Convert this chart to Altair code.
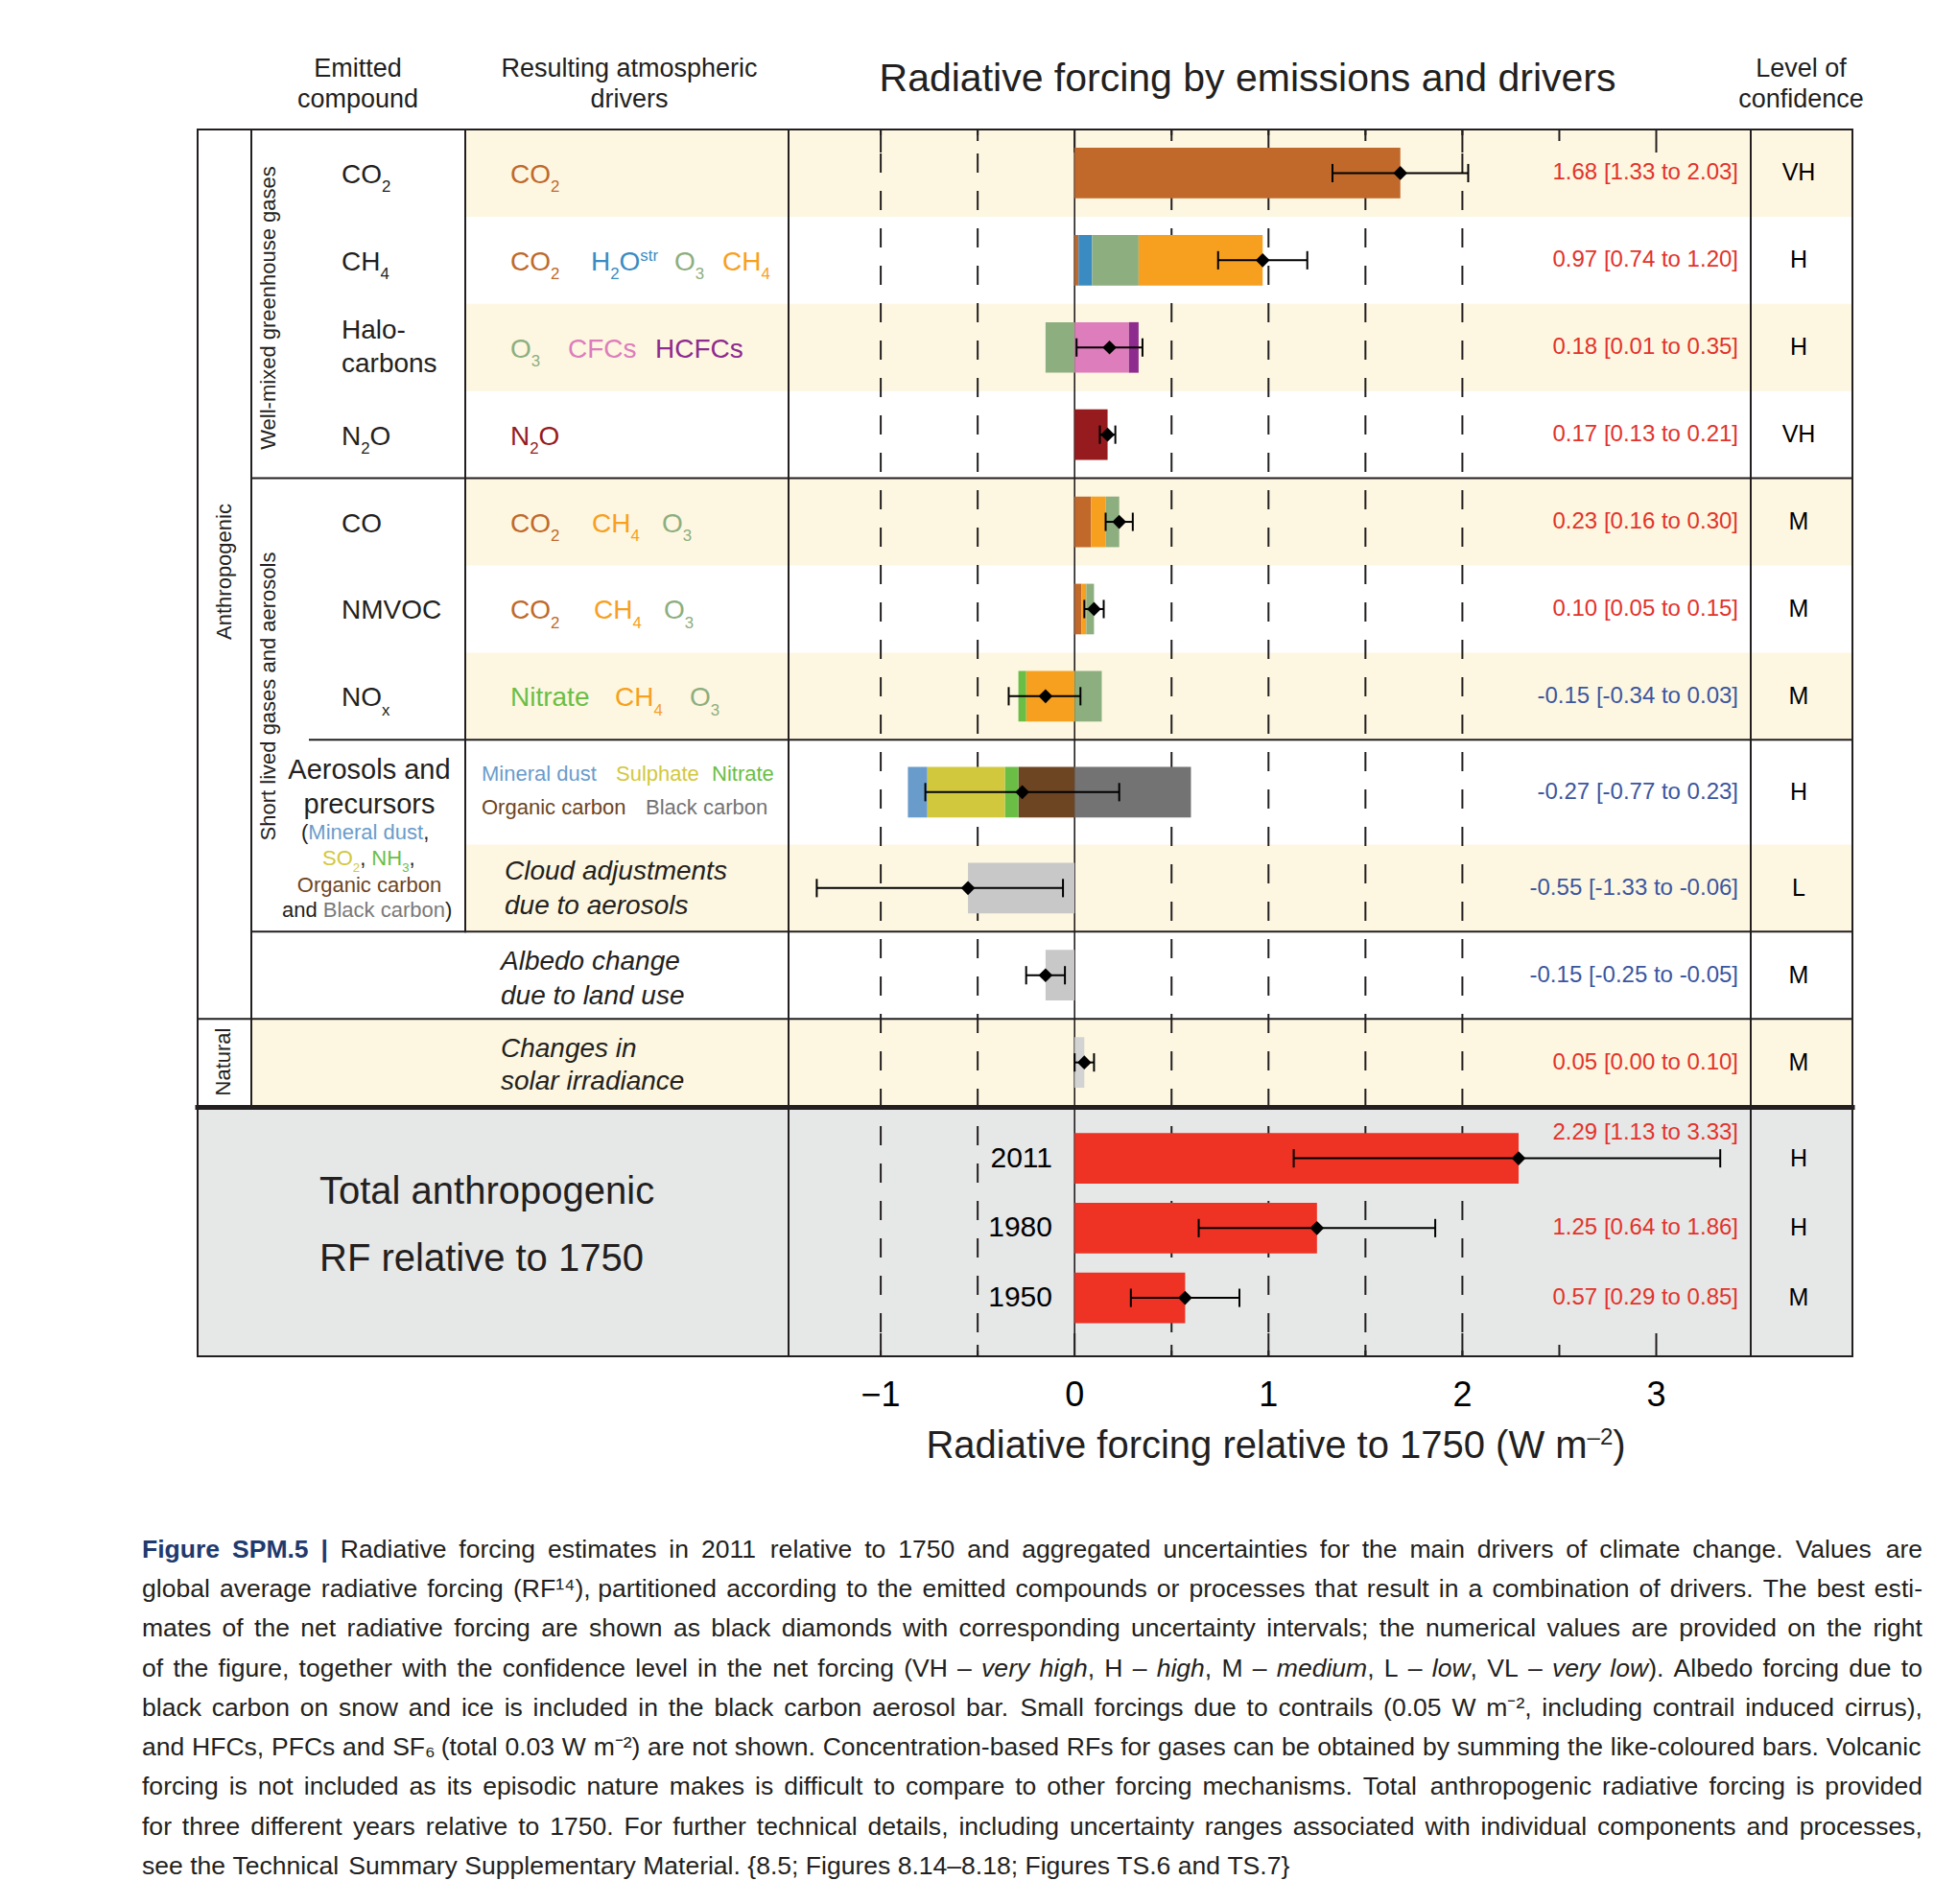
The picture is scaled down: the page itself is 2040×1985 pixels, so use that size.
import re
import altair as alt
import pandas as pd

# ---------------- data ----------------
ROW_KEYS = ["CO2", "CH4", "Halocarbons", "N2O", "CO", "NMVOC", "NOx",
            "Aerosols", "Cloud", "Albedo", "Solar", "2011", "1980", "1950"]
BEST = [1.68, 0.97, 0.18, 0.17, 0.23, 0.10, -0.15, -0.27, -0.55, -0.15, 0.05, 2.29, 1.25, 0.57]
LOW = [1.33, 0.74, 0.01, 0.13, 0.16, 0.05, -0.34, -0.77, -1.33, -0.25, 0.00, 1.13, 0.64, 0.29]
HIGH = [2.03, 1.20, 0.35, 0.21, 0.30, 0.15, 0.03, 0.23, -0.06, -0.05, 0.10, 3.33, 1.86, 0.85]
CONF = ["VH", "H", "H", "VH", "M", "M", "M", "H", "L", "M", "M", "H", "H", "M"]
YEARS = ["2011", "1980", "1950"]

# bar components, in stacking order outward from zero
COMP_ROW = ["CO2",
            "CH4", "CH4", "CH4", "CH4",
            "Halocarbons", "Halocarbons", "Halocarbons",
            "N2O",
            "CO", "CO", "CO",
            "NMVOC", "NMVOC", "NMVOC",
            "NOx", "NOx", "NOx",
            "Aerosols", "Aerosols", "Aerosols", "Aerosols", "Aerosols",
            "Cloud", "Albedo", "Solar", "2011", "1980", "1950"]
COMP_DRIVER = ["CO2",
               "CO2", "H2Ostr", "O3", "CH4",
               "O3", "CFCs", "HCFCs",
               "N2O",
               "CO2", "CH4", "O3",
               "CO2", "CH4", "O3",
               "CH4", "Nitrate", "O3",
               "Organic carbon", "Nitrate", "Sulphate", "Mineral dust", "Black carbon",
               "Cloud adjustments", "Land use albedo", "Solar irradiance", "Total", "Total", "Total"]
COMP_VALUE = [1.68,
              0.02, 0.07, 0.24, 0.64,
              -0.15, 0.28, 0.05,
              0.17,
              0.085, 0.075, 0.07,
              0.035, 0.025, 0.04,
              -0.25, -0.04, 0.14,
              -0.29, -0.07, -0.40, -0.10, 0.60,
              -0.55, -0.15, 0.05, 2.29, 1.25, 0.57]

DRIVERS = ["CO2", "H2Ostr", "O3", "CH4", "CFCs", "HCFCs", "N2O", "Nitrate", "Mineral dust",
           "Sulphate", "Organic carbon", "Black carbon", "Cloud adjustments", "Land use albedo",
           "Solar irradiance", "Total"]
DRIVER_COLORS = ["#C0692B", "#3A8BC2", "#8DAE7E", "#F7A01F", "#DE7DBB", "#8E2B8F", "#961B1E",
                 "#6BBE45", "#6A9CCB", "#D2C83E", "#6D4522", "#737373", "#C8C8C8", "#C8C8C8",
                 "#D3D3D3", "#EE3224"]
PAL = dict(zip(DRIVERS, DRIVER_COLORS))

TICK_MAJOR = [-1, 0, 1, 2, 3]
TICK_MINOR = [-0.5, 0.5, 1.5, 2.5]
DASH_AT = [-1, -0.5, 0.5, 1, 1.5, 2]

# ---------------- layout ----------------
W, H, OFF = 2024, 1969, 8
X0PX, XUNIT = 1120.2, 202.1     # pixel of x=0 and pixels per W m-2
Y0PX, YUNIT = 135.0, 90.9       # pixel of table top and pixels per row unit
X_L = (OFF - X0PX) / XUNIT
X_R = (OFF + W - X0PX) / XUNIT
Y_T = (OFF - Y0PX) / YUNIT
Y_B = (OFF + H - Y0PX) / YUNIT
XS = alt.Scale(domain=[X_L, X_R], nice=False, zero=False)
YS = alt.Scale(domain=[Y_T, Y_B], nice=False, zero=False, reverse=True)

ROW_UNITS = [1, 1, 1, 1, 1, 1, 1, 1.2, 1, 1, 1]
bounds = [0.0]
for h in ROW_UNITS:
    bounds.append(bounds[-1] + h)
RC = [(bounds[i] + bounds[i + 1]) / 2 for i in range(len(ROW_UNITS))]
RC += [bounds[-1] + 0.6 + 0.8 * i for i in range(3)]
HB, HC = 0.29, 0.105


def rpx(r):
    return Y0PX + YUNIT * r


FONT = "Liberation Sans"
INK = "#231F20"
RED, BLUE = "#E2332B", "#3B56A0"
CREAM, GREY = "#FDF7E1", "#E6E7E7"

# Arial / Liberation Sans advance widths (per 1000 em)
AW = dict(zip(" !\"#$%&'()*+,-./", [278, 278, 355, 556, 556, 889, 667, 191, 333, 333, 389, 584, 278, 333, 278, 278]))
AW.update({c: 556 for c in "0123456789"})
AW.update(dict(zip(":;<=>?@", [278, 278, 584, 584, 584, 556, 1015])))
AW.update(dict(zip("ABCDEFGHIJKLMNOPQRSTUVWXYZ",
                   [667, 667, 722, 722, 667, 611, 778, 722, 278, 500, 667, 556, 833, 722, 778, 667,
                    778, 722, 667, 611, 722, 667, 944, 667, 667, 611])))
AW.update(dict(zip("abcdefghijklmnopqrstuvwxyz",
                   [556, 556, 500, 556, 556, 278, 556, 556, 222, 222, 500, 222, 833, 556, 556, 556,
                    556, 333, 500, 278, 556, 500, 722, 500, 500, 500])))
AW.update({"[": 278, "]": 278, "{": 334, "|": 260, "}": 334, "–": 556, "¹": 333, "²": 333,
           "⁴": 333, "⁻": 333, "₆": 333})
ABW = {"F": 611, "i": 278, "g": 611, "u": 611, "r": 389, "e": 556, "S": 667, "P": 667,
       "M": 833, ".": 278, "5": 556, "|": 280, " ": 278}


def tw(s, fs, bold=False):
    return sum((ABW.get(c, AW.get(c, 556)) if bold else AW.get(c, 556)) for c in s) * fs / 1000.0


texts = []


def add(t, x, y, fs, col=INK, align="left", baseline="alphabetic", style="normal",
        weight="normal", angle=0):
    texts.append(dict(t=t, x=x - OFF, y=y - OFF, fs=fs, col=col, align=align,
                      baseline=baseline, style=style, weight=weight, angle=angle))


TOK = re.compile(r"_\{([^}]*)\}|\^\{([^}]*)\}|([^_^]+)")


def chem_width(s, fs):
    w = 0.0
    for sub, sup, main in TOK.findall(s):
        w += tw(main, fs) if main else tw(sub or sup, 0.6 * fs)
    return w


def chem(s, x, y, fs, col=INK, style="normal"):
    for sub, sup, main in TOK.findall(s):
        if main:
            add(main, x, y, fs, col, style=style)
            x += tw(main, fs)
        elif sub:
            add(sub, x, y + 0.33 * fs, 0.6 * fs, col, style=style)
            x += tw(sub, 0.6 * fs)
        else:
            add(sup, x, y - 0.36 * fs, 0.6 * fs, col, style=style)
            x += tw(sup, 0.6 * fs)
    return x


# ---- headers ----
add("Emitted", 373, 79.5, 27, align="center")
add("compound", 373, 111.6, 27, align="center")
add("Resulting atmospheric", 656, 79.5, 27, align="center")
add("drivers", 656, 111.6, 27, align="center")
add("Level of", 1877.5, 79.5, 27, align="center")
add("confidence", 1877.5, 111.6, 27, align="center")
add("Radiative forcing by emissions and drivers", 1300.5, 95, 41, align="center")

# ---- x-axis title ----
AXIS_TITLE = "Radiative forcing relative to 1750 (W m^{–2})"
chem(AXIS_TITLE, 1330 - chem_width(AXIS_TITLE, 40) / 2, 1520, 40)

# ---- emitted compounds ----
rcp = [rpx(c) for c in RC]
COMPOUND_LABELS = [["CO_{2}"], ["CH_{4}"], ["Halo-", "carbons"], ["N_{2}O"], ["CO"], ["NMVOC"], ["NO_{x}"]]
for i, lab in enumerate(COMPOUND_LABELS):
    if len(lab) == 1:
        chem(lab[0], 356, rcp[i] + 10.5, 28)
    else:
        chem(lab[0], 356, rcp[i] - 9.5, 28)
        chem(lab[1], 356, rcp[i] + 26.2, 28)

# ---- resulting drivers (label, palette key, left x) ----
DRIVER_LABELS = [
    [("CO_{2}", "CO2", 532)],
    [("CO_{2}", "CO2", 532), ("H_{2}O^{str}", "H2Ostr", 616), ("O_{3}", "O3", 703), ("CH_{4}", "CH4", 753)],
    [("O_{3}", "O3", 532), ("CFCs", "CFCs", 592), ("HCFCs", "HCFCs", 683)],
    [("N_{2}O", "N2O", 532)],
    [("CO_{2}", "CO2", 532), ("CH_{4}", "CH4", 617), ("O_{3}", "O3", 690)],
    [("CO_{2}", "CO2", 532), ("CH_{4}", "CH4", 619), ("O_{3}", "O3", 692)],
    [("Nitrate", "Nitrate", 532), ("CH_{4}", "CH4", 641), ("O_{3}", "O3", 719)],
]
for i, segs in enumerate(DRIVER_LABELS):
    for lab, key, x in segs:
        chem(lab, x, rcp[i] + 10.5, 28, PAL[key])

# aerosol drivers
add("Mineral dust", 502, 814, 22, PAL["Mineral dust"])
add("Sulphate", 642, 814, 22, PAL["Sulphate"])
add("Nitrate", 742, 814, 22, PAL["Nitrate"])
add("Organic carbon", 502, 849, 22, PAL["Organic carbon"])
add("Black carbon", 673, 849, 22, PAL["Black carbon"])
# aerosol compound block
add("Aerosols and", 385, 812, 29, align="center")
add("precursors", 385, 848, 29, align="center")
x = 314
add("(", x, 875, 22); x += tw("(", 22)
add("Mineral dust", x, 875, 22, PAL["Mineral dust"]); x += tw("Mineral dust", 22)
add(",", x, 875, 22)
x = chem("SO_{2}", 336, 901.5, 22, PAL["Sulphate"])
add(", ", x, 901.5, 22); x += tw(", ", 22)
x = chem("NH_{3}", x, 901.5, 22, PAL["Nitrate"])
add(",", x, 901.5, 22)
add("Organic carbon", 385, 929.6, 22, PAL["Organic carbon"], align="center")
x = 294
add("and ", x, 956, 22); x += tw("and ", 22)
add("Black carbon", x, 956, 22, "#7A7A7A"); x += tw("Black carbon", 22)
add(")", x, 956, 22)

add("Cloud adjustments", 526, 916.7, 28, style="italic")
add("due to aerosols", 526, 952.7, 28, style="italic")
add("Albedo change", 522, 1011, 28, style="italic")
add("due to land use", 522, 1047, 28, style="italic")
add("Changes in", 522, 1102, 28, style="italic")
add("solar irradiance", 522, 1136, 28, style="italic")

add("Total anthropogenic", 333, 1255, 40)
add("RF relative to 1750", 333, 1325, 40)

# rotated group labels
add("Well-mixed greenhouse gases", 280, 321, 22, align="center", baseline="middle", angle=270)
add("Short lived gases and aerosols", 280, 726, 22, align="center", baseline="middle", angle=270)
add("Anthropogenic", 234, 596, 22, align="center", baseline="middle", angle=270)
add("Natural", 233, 1107, 22, align="center", baseline="middle", angle=270)

# ---- caption (justified by word placement) ----
CAPTION = [
    "#Figure# #SPM.5# #|# Radiative forcing estimates in 2011 relative to 1750 and aggregated uncertainties for the main drivers of climate change. Values are",
    "global average radiative forcing (RF¹⁴), partitioned according to the emitted compounds or processes that result in a combination of drivers. The best esti-",
    "mates of the net radiative forcing are shown as black diamonds with corresponding uncertainty intervals; the numerical values are provided on the right",
    "of the figure, together with the confidence level in the net forcing (VH – *very* *high*, H – *high*, M – *medium*, L – *low*, VL – *very* *low*). Albedo forcing due to",
    "black carbon on snow and ice is included in the black carbon aerosol bar. Small forcings due to contrails (0.05 W m⁻², including contrail induced cirrus),",
    "and HFCs, PFCs and SF₆ (total 0.03 W m⁻²) are not shown. Concentration-based RFs for gases can be obtained by summing the like-coloured bars. Volcanic",
    "forcing is not included as its episodic nature makes is difficult to compare to other forcing mechanisms. Total anthropogenic radiative forcing is provided",
    "for three different years relative to 1750. For further technical details, including uncertainty ranges associated with individual components and processes,",
    "see the Technical Summary Supplementary Material. {8.5; Figures 8.14–8.18; Figures TS.6 and TS.7}",
]
CAP_L, CAP_R, CAP_Y0, CAP_DY = 148, 2004, 1623.6, 41.3
NAVY = "#1F3A6E"


def split_segments(word):
    out, it, bd, buf = [], False, False, ""
    for c in word:
        if c in "*#":
            if buf:
                out.append((buf, it, bd))
                buf = ""
            if c == "*":
                it = not it
            else:
                bd = not bd
        else:
            buf += c
    if buf:
        out.append((buf, it, bd))
    return out


def word_w(segs, fs):
    return sum(tw(t, fs, b) for t, i, b in segs)


cap_words = [[split_segments(w) for w in line.split(" ")] for line in CAPTION]
nat = [sum(word_w(s, 1000) for s in ws) + AW[" "] * (len(ws) - 1) for ws in cap_words[:-1]]
CAP_FS = round(min((CAP_R - CAP_L) * 1000.0 / n for n in nat) * 0.995, 2)
for li, ws in enumerate(cap_words):
    y = CAP_Y0 + CAP_DY * li
    widths = [word_w(s, CAP_FS) for s in ws]
    if li < len(cap_words) - 1:
        gap = (CAP_R - CAP_L - sum(widths)) / (len(ws) - 1)
    else:
        gap = tw(" ", CAP_FS)
    x = CAP_L
    for s, wdt in zip(ws, widths):
        xx = x
        for t, it, bd in s:
            add(t, xx, y, CAP_FS, NAVY if bd else INK, style="italic" if it else "normal",
                weight="bold" if bd else "normal")
            xx += tw(t, CAP_FS, bd)
        x += wdt + gap

# ---------------- data frames ----------------
pos_c, neg_c = {}, {}
bar_rows = []
for r, d, v in zip(COMP_ROW, COMP_DRIVER, COMP_VALUE):
    i = ROW_KEYS.index(r)
    if v >= 0:
        a = pos_c.get(r, 0.0)
        b = a + v
        pos_c[r] = b
    else:
        a = neg_c.get(r, 0.0)
        b = a + v
        neg_c[r] = b
    bar_rows.append(dict(row=r, driver=d, x0=a, x1=b, ya=RC[i] - HB, yb=RC[i] + HB))
bars_df = pd.DataFrame(bar_rows)

net = pd.DataFrame(dict(row=ROW_KEYS, best=BEST, lo=LOW, hi=HIGH, conf=CONF, rc=RC))
net["label"] = [f"{b:.2f} [{l:.2f} to {h:.2f}]" for b, l, h in zip(BEST, LOW, HIGH)]
net["lcol"] = [RED if b > 0 else BLUE for b in BEST]
net["ly"] = [c - 0.29 if k == "2011" else c for k, c in zip(ROW_KEYS, RC)]
caps_df = pd.concat([
    pd.DataFrame(dict(x=net["lo"], ya=net["rc"] - HC, yb=net["rc"] + HC)),
    pd.DataFrame(dict(x=net["hi"], ya=net["rc"] - HC, yb=net["rc"] + HC)),
])
years_df = pd.DataFrame(dict(year=YEARS, rc=[RC[ROW_KEYS.index(y)] for y in YEARS]))
ticklab_df = pd.DataFrame(dict(v=TICK_MAJOR,
                               lab=[("−" if v < 0 else "") + str(abs(v)) for v in TICK_MAJOR]))

# stripes (row units) and table lines (pixels)
stripe_rows = []
for i in [0, 2, 4, 6, 8]:
    stripe_rows.append(dict(r0=bounds[i], r1=bounds[i + 1], sx0=485 - OFF, sx1=1931 - OFF))
stripe_rows.append(dict(r0=bounds[10], r1=bounds[11], sx0=262 - OFF, sx1=1931 - OFF))
stripes_df = pd.DataFrame(stripe_rows)

TOP, BOT = rpx(0), 1414.0
b4, b7, b92, b102, b112 = rpx(bounds[4]), rpx(bounds[7]), rpx(bounds[9]), rpx(bounds[10]), rpx(bounds[11])
L = []
for xv, y0, y1 in [(206, TOP, BOT), (262, TOP, b112), (485, TOP, b92), (822, TOP, BOT),
                   (1825, TOP, BOT), (1931, TOP, BOT)]:
    L.append(dict(x0=xv, x1=xv, y0=y0, y1=y1, w=2))
for yv, x0, x1 in [(TOP, 206, 1931), (b4, 262, 1931), (b7, 323, 1931), (b92, 262, 1931),
                   (b102, 206, 1931), (BOT, 206, 1931)]:
    L.append(dict(x0=x0, x1=x1, y0=yv, y1=yv, w=2))
L.append(dict(x0=206, x1=1931, y0=b112 + 1.5, y1=b112 + 1.5, w=5))
lines_df = pd.DataFrame(L)
for c in ["x0", "x1", "y0", "y1"]:
    lines_df[c] = lines_df[c] - OFF

tick_rows = []
for v in TICK_MAJOR + TICK_MINOR:
    ln = 24 if v in TICK_MAJOR else 12
    tick_rows.append(dict(v=v, t0=TOP - OFF, t1=TOP - OFF + ln))
    tick_rows.append(dict(v=v, t0=BOT - OFF - ln, t1=BOT - OFF))
ticks_df = pd.DataFrame(tick_rows)
dash_df = pd.DataFrame(dict(v=DASH_AT))

# ---------------- layers ----------------
stripes = alt.Chart(stripes_df).mark_rect(color=CREAM).encode(
    x=alt.X("sx0:Q", scale=None), x2="sx1:Q",
    y=alt.Y("r0:Q", scale=YS, axis=None), y2="r1:Q")

panel = alt.Chart(pd.DataFrame(dict(a=[0]))).mark_rect(color=GREY).encode(
    x=alt.value(206 - OFF), x2=alt.value(1931 - OFF),
    y=alt.value(b112 + 3 - OFF), y2=alt.value(BOT - OFF))

dashes = alt.Chart(dash_df).mark_rule(color=INK, strokeWidth=2, strokeDash=[20, 19],
                                       strokeDashOffset=14).encode(
    x=alt.X("v:Q", scale=XS, axis=None),
    y=alt.value(TOP - OFF), y2=alt.value(BOT - OFF))

zero = alt.Chart(pd.DataFrame(dict(v=[0]))).mark_rule(color=INK, strokeWidth=1.6).encode(
    x=alt.X("v:Q", scale=XS, axis=None),
    y=alt.value(TOP - OFF), y2=alt.value(BOT - OFF))

ticks = alt.Chart(ticks_df).mark_rule(color=INK, strokeWidth=2).encode(
    x=alt.X("v:Q", scale=XS, axis=None),
    y=alt.Y("t0:Q", scale=None), y2="t1:Q")

ticklabels = alt.Chart(ticklab_df).mark_text(align="center", baseline="middle", font=FONT,
                                             fontSize=36, color="black").encode(
    x=alt.X("v:Q", scale=XS, axis=None),
    y=alt.value(1455 - OFF),
    text="lab:N")

bars = alt.Chart(bars_df).mark_rect().encode(
    x=alt.X("x0:Q", scale=XS, axis=None), x2="x1:Q",
    y=alt.Y("ya:Q", scale=YS, axis=None), y2="yb:Q",
    color=alt.Color("driver:N", scale=alt.Scale(domain=DRIVERS, range=DRIVER_COLORS), legend=None))

lines = alt.Chart(lines_df).mark_rule(color=INK, strokeCap="square").encode(
    x=alt.X("x0:Q", scale=None), x2="x1:Q",
    y=alt.Y("y0:Q", scale=None), y2="y1:Q",
    strokeWidth=alt.StrokeWidth("w:Q", scale=None))

err = alt.Chart(net).mark_rule(color="black", strokeWidth=2).encode(
    x=alt.X("lo:Q", scale=XS, axis=None), x2="hi:Q",
    y=alt.Y("rc:Q", scale=YS, axis=None))

caps = alt.Chart(caps_df).mark_rule(color="black", strokeWidth=2).encode(
    x=alt.X("x:Q", scale=XS, axis=None),
    y=alt.Y("ya:Q", scale=YS, axis=None), y2="yb:Q")

diamonds = alt.Chart(net).mark_point(shape="diamond", filled=True, color="black",
                                     size=215, opacity=1).encode(
    x=alt.X("best:Q", scale=XS, axis=None),
    y=alt.Y("rc:Q", scale=YS, axis=None))

vals = alt.Chart(net).mark_text(align="right", baseline="middle", font=FONT, fontSize=24).encode(
    x=alt.value(1812 - OFF),
    y=alt.Y("ly:Q", scale=YS, axis=None),
    text="label:N",
    color=alt.Color("lcol:N", scale=None))

confs = alt.Chart(net).mark_text(align="center", baseline="middle", font=FONT, fontSize=25,
                                 color="black").encode(
    x=alt.value(1875 - OFF),
    y=alt.Y("rc:Q", scale=YS, axis=None),
    text="conf:N")

years = alt.Chart(years_df).mark_text(align="right", baseline="middle", font=FONT, fontSize=30,
                                      color="black").encode(
    x=alt.value(1097 - OFF),
    y=alt.Y("rc:Q", scale=YS, axis=None),
    text="year:N")

tdf = pd.DataFrame(texts)
text_layers = []
for (al, bl, st, wt, an), g in tdf.groupby(["align", "baseline", "style", "weight", "angle"]):
    text_layers.append(
        alt.Chart(g.reset_index(drop=True)).mark_text(
            align=al, baseline=bl, fontStyle=st, fontWeight=wt, angle=float(an), font=FONT).encode(
            x=alt.X("x:Q", scale=None), y=alt.Y("y:Q", scale=None),
            text="t:N",
            size=alt.Size("fs:Q", scale=None),
            color=alt.Color("col:N", scale=None)))

chart = alt.layer(stripes, panel, dashes, zero, ticks, bars, lines, err, caps, diamonds,
                  ticklabels, vals, confs, years, *text_layers).properties(
    width=W, height=H, padding=0, background="white",
    autosize=alt.AutoSizeParams(type="none")).configure_view(stroke=None)

chart.save("out.html", embed_options={"renderer": "svg", "actions": False})
